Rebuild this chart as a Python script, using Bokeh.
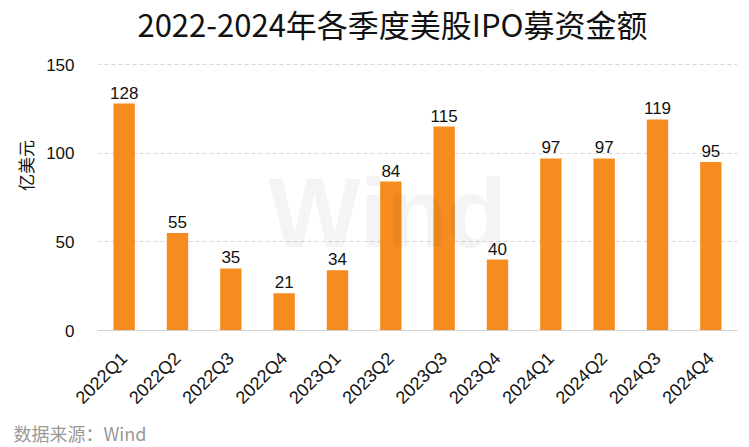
import math
from bokeh.plotting import figure
from bokeh.models import ColumnDataSource, Label, Range1d, FixedTicker, Title
from bokeh.core.properties import value
from bokeh.embed import file_html
from bokeh.resources import INLINE

quarters = ["2022Q1", "2022Q2", "2022Q3", "2022Q4", "2023Q1", "2023Q2",
            "2023Q3", "2023Q4", "2024Q1", "2024Q2", "2024Q3", "2024Q4"]
amounts = [128, 55, 35, 21, 34, 84, 115, 40, 97, 97, 119, 95]
y_ticks = [0, 50, 100, 150]
title_text = "2022-2024年各季度美股IPO募资金额"
y_label = "亿美元"
source_text = "数据来源：Wind"

src = ColumnDataSource(dict(q=quarters, v=amounts, t=[str(a) for a in amounts]))

# frame extends to the top of the canvas so the title can sit inside it
FRAME_H = 330
p = figure(x_range=quarters, y_range=Range1d(0, 150 * FRAME_H / 266), frame_width=640,
           frame_height=FRAME_H, output_backend="svg", toolbar_location=None,
           min_border_left=97, min_border_right=5, min_border_top=0, min_border_bottom=0)
p.outline_line_color = None
p.background_fill_color = "white"
p.border_fill_color = "white"

p.vbar(x="q", top="v", width=0.4, source=src, color="#F68B1F", line_color=None)
p.text(x="q", y="v", text="t", source=src, text_align="center", text_baseline="alphabetic",
       y_offset=-11, text_font=value("Liberation Sans"), text_font_size="17px", text_color="#111111")

p.xgrid.grid_line_color = None
p.ygrid.grid_line_color = "#d9d9d9"
p.ygrid.grid_line_dash = "4 3"
p.yaxis.ticker = FixedTicker(ticks=y_ticks)
p.yaxis.axis_line_color = None
p.yaxis.major_tick_line_color = None
p.yaxis.minor_tick_line_color = None
p.yaxis.major_label_text_font = "Liberation Sans"
p.yaxis.major_label_text_font_size = "17px"
p.yaxis.major_label_text_color = "#111111"
p.yaxis.major_label_standoff = 17
p.yaxis.axis_label = y_label
p.yaxis.axis_label_text_font = "Noto Sans CJK SC"
p.yaxis.axis_label_text_font_style = "normal"
p.yaxis.axis_label_text_font_size = "17px"
p.yaxis.axis_label_text_color = "#111111"
p.yaxis.axis_label_standoff = 5

p.xaxis.axis_line_color = "#d0d0d0"
p.xaxis.major_tick_line_color = None
p.xaxis.minor_tick_line_color = None
p.xaxis.major_label_orientation = math.pi / 4
p.xaxis.major_label_text_font = "Liberation Sans"
p.xaxis.major_label_text_font_size = "18px"
p.xaxis.major_label_text_color = "#111111"
p.xaxis.major_label_standoff = 19

p.add_layout(Label(x=290, y=118, x_units="screen", y_units="screen", text="Wind",
                   text_align="center", text_baseline="middle", text_font="Liberation Sans",
                   text_font_size="98px", text_font_style="bold", text_color="#000000",
                   text_alpha=0.045))
p.add_layout(Label(x=295, y=307, x_units="screen", y_units="screen", text=title_text,
                   text_align="center", text_baseline="middle", text_font="Noto Sans CJK SC",
                   text_font_size="31px", text_font_style="normal", text_color="#111111"))
p.add_layout(Title(text=source_text, align="left", offset=-84, standoff=0,
                   vertical_align="bottom",
                   text_font="Noto Sans CJK SC", text_font_size="18px",
                   text_font_style="normal", text_color="#999999"), "below")

open("out.html", "w").write(file_html(p, INLINE))
